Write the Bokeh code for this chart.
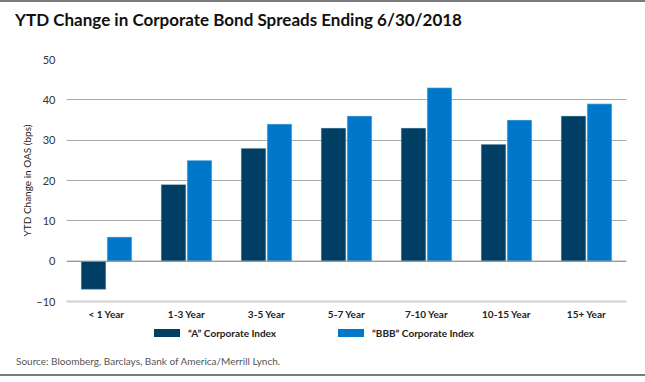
from bokeh.plotting import figure
from bokeh.layouts import column
from bokeh.models import (FactorRange, Range1d, FixedTicker, ColumnDataSource, Span, Div)
from bokeh.transform import dodge
from bokeh.embed import file_html
from bokeh.resources import INLINE

categories = ["< 1 Year", "1-3 Year", "3-5 Year", "5-7 Year", "7-10 Year", "10-15 Year", "15+ Year"]
a_index = [-7, 19, 28, 33, 33, 29, 36]
bbb_index = [6, 25, 34, 36, 43, 35, 39]
series_names = ["\u201cA\u201d Corporate Index", "\u201cBBB\u201d Corporate Index"]
y_ticks = [-10, 0, 10, 20, 30, 40, 50]
title_text = "YTD Change in Corporate Bond Spreads Ending 6/30/2018"
source_text = "Source: Bloomberg, Barclays, Bank of America/Merrill Lynch."
y_label = "YTD Change in OAS (bps)"

FONT = "Lato"
DARK = "#003f63"
LIGHT = "#0077c8"
RULE = "#7a7a7a"
W = 645

title_div = Div(text=title_text, width=W, height=49, margin=0,
                styles={"font-family": FONT, "font-size": "17px", "font-weight": "bold",
                        "color": "#111111", "line-height": "21px",
                        "border-top": f"2px solid {RULE}", "box-sizing": "border-box",
                        "padding-top": "7px", "padding-left": "15px",
                        "white-space": "nowrap", "overflow": "hidden"})

src = ColumnDataSource(dict(cat=categories, a=a_index, bbb=bbb_index))

p = figure(frame_width=560, frame_height=242, output_backend="svg", toolbar_location=None,
           x_range=FactorRange(*categories, range_padding=0),
           y_range=Range1d(-10, 50),
           min_border_left=66, min_border_right=19, min_border_top=10, min_border_bottom=22)
p.margin = 0
p.outline_line_color = None
p.background_fill_color = "white"
p.border_fill_color = "white"

ra = p.vbar(x=dodge("cat", -0.1625, range=p.x_range), top="a", bottom=0, width=0.31,
            source=src, fill_color=DARK, line_color="#c8d8e4", line_width=0.5)
rb = p.vbar(x=dodge("cat", 0.1625, range=p.x_range), top="bbb", bottom=0, width=0.31,
            source=src, fill_color=LIGHT, line_color="#c8e0f4", line_width=0.5)

p.yaxis.ticker = FixedTicker(ticks=y_ticks)
p.yaxis.axis_line_color = None
p.yaxis.major_tick_line_color = None
p.yaxis.minor_tick_line_color = None
p.yaxis.major_tick_out = 0
p.yaxis.major_tick_in = 0
p.yaxis.minor_tick_out = 0
p.yaxis.major_label_text_font = FONT
p.yaxis.major_label_text_font_size = "11px"
p.yaxis.major_label_text_color = "#333333"
p.yaxis.major_label_standoff = 11
p.yaxis.axis_label = y_label
p.yaxis.axis_label_text_font = FONT
p.yaxis.axis_label_text_font_size = "10px"
p.yaxis.axis_label_text_font_style = "normal"
p.yaxis.axis_label_text_color = "#222222"
p.yaxis.axis_label_standoff = 0

p.xaxis.axis_line_color = "#d0d0d0"
p.xaxis.axis_line_width = 2
p.xaxis.major_tick_line_color = None
p.xaxis.minor_tick_line_color = None
p.xaxis.major_label_text_font = FONT
p.xaxis.major_label_text_font_size = "10px"
p.xaxis.major_label_text_font_style = "bold"
p.xaxis.major_label_text_color = "#222222"
p.xaxis.major_label_standoff = 0

p.xgrid.grid_line_color = None
p.ygrid.grid_line_color = "#a8a8a8"
p.ygrid.grid_line_width = 1
p.add_layout(Span(location=0, dimension="width", line_color="#909090", line_width=1))

lab_style = "position:absolute;top:3px;line-height:14px;white-space:nowrap;"
legend_html = (
    f'<div style="position:relative;width:{W}px;height:20px;font-family:{FONT};'
    f'font-size:10px;font-weight:bold;color:#222222;">'
    f'<span style="position:absolute;left:154px;top:6px;width:26px;height:8px;'
    f'background:{DARK};"></span>'
    f'<span style="{lab_style}left:188px;">{series_names[0]}</span>'
    f'<span style="position:absolute;left:338px;top:6px;width:26px;height:8px;'
    f'background:{LIGHT};"></span>'
    f'<span style="{lab_style}left:372px;">{series_names[1]}</span>'
    f'</div>'
)
legend_div = Div(text=legend_html, width=W, height=20, margin=0,
                 styles={"overflow": "hidden"})

source_div = Div(text=source_text, width=W, height=33, margin=0,
                 styles={"font-family": FONT, "font-size": "10px", "color": "#555555",
                         "line-height": "14px", "white-space": "nowrap",
                         "padding-left": "16px", "padding-top": "11px",
                         "box-sizing": "border-box", "overflow": "hidden",
                         "border-bottom": f"2px solid {RULE}"})

layout = column(title_div, p, legend_div, source_div, spacing=0)
open("out.html", "w").write(file_html(layout, INLINE))
